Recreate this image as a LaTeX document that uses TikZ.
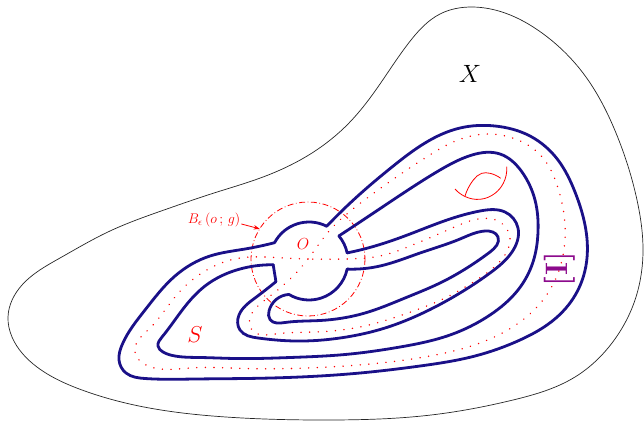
\RequirePackage{fix-cm}
\documentclass[tikz,border=0pt]{standalone}
\usepackage{tikz}
\usetikzlibrary{arrows.meta, calc, hobby}
\definecolor{bandblue}{RGB}{26,16,136}
\definecolor{fiberpurple}{RGB}{140,10,140}

\begin{document}
\begin{tikzpicture}[
    x=1pt, y=-1pt,
    spaceline/.style={draw=black!85, line width=0.7pt},
    bandline/.style={draw=bandblue, line width=2.8pt, line cap=round, line join=round},
    coreline/.style={draw=red, line width=1.6pt, line cap=round, dash pattern=on 0.01pt off 8.6pt},
    ballline/.style={draw=red, line width=0.8pt, dash pattern=on 6pt off 2.5pt on 0.8pt off 2.5pt},
    curveline/.style={draw=red, line width=0.8pt},
    redlabel/.style={text=red, inner sep=0pt},
]
  \useasboundingbox (0,0) rectangle (644,421);

  \coordinate (Oc) at (309,261);
  \coordinate (Bc) at (308,259);
  \coordinate (Lt) at ($(Oc)+(208:39)$);
  \coordinate (TRt) at ($(Oc)+(297:39)$);
  \coordinate (TRb) at ($(Oc)+(320:39)$);
  \coordinate (Rt) at ($(Oc)+(348:39)$);
  \coordinate (Rb) at ($(Oc)+(12:39)$);
  \coordinate (BLb) at ($(Oc)+(121:39)$);
  \coordinate (BLt) at ($(Oc)+(148:39)$);
  \coordinate (Lb) at ($(Oc)+(174:36)$);
  \coordinate (Bpt) at ($(Bc)+(212:57)$);

  \draw[spaceline] plot[closed hobby] coordinates {
    (8,317) (22,285) (60,258) (110,231) (164,210) (214,193) (263,177) (312,153)
    (349,123) (380,84) (411,40) (440,14) (472,7) (505,13) (542,33) (583,73)
    (616,133) (637,200) (643,250) (635,300) (612,343) (575,377) (513,400)
    (431,415) (328,420) (226,417) (144,407) (82,390) (37,367) (12,337)};

  \draw[ballline] (Bc) circle[radius=57];
  \draw[coreline] plot[closed hobby] coordinates {
    (308,259) (275,257.5) (240,258) (205,271) (175,297) (150,328) (135,352)
    (148,366) (190,368) (245,368.5) (307,368) (370,364) (430,356) (480,343)
    (520,322) (548,293) (562,260) (565,225) (558,188) (543,158) (518,140)
    (488,134) (458,140) (425,158) (392,180) (358,205) (330,230) (308,259)
    (288,281) (265,300) (250,318) (252,330) (275,334) (315,332) (360,327)
    (405,314) (445,298) (478,279) (502,259) (510,238) (500,222) (478,219)
    (450,229) (415,244) (380,256) (345,259)};

  \draw[bandline] plot[hobby] coordinates {
    (Lt) (245,249) (210,256) (175,276) (145,310) (122,345) (119,360) (126,373)
    (145,378.5) (195,379) (245,378.5) (300,377) (360,373) (420,366) (475,356)
    (520,340) (556,318) (578,290) (587,258) (585,225) (575,192) (558,160)
    (530,136) (495,126) (460,128) (425,143) (392,167) (360,194) (TRt)};
  \draw[bandline] plot[hobby] coordinates {
    (Lb) (240,269) (205,286) (180,313) (162,337) (158,346) (163,352) (175,356)
    (200,357.5) (235,358.5) (290,357.5) (345,354.5) (400,347) (450,335) (490,315)
    (518,290) (533,262) (538,232) (535,200) (522,172) (500,154) (472,155)
    (440,170) (405,192) (372,214) (TRb)};
  \draw[bandline] plot[hobby] coordinates {
    (Rt) (375,246) (410,234) (447,220) (480,211) (505,212) (518,228) (512,252)
    (490,273) (460,293) (425,312) (385,328) (340,338) (295,341) (258,338)
    (240,330) (239,315) (255,298) (BLt)};
  \draw[bandline] plot[hobby] coordinates {
    (Rb) (380,266) (420,253) (460,239) (485,231) (498,237) (490,252) (470,266)
    (440,283) (405,298) (365,313) (320,320.5) (285,322.5) (270,319.5) (269,311)
    (BLb)};

  \draw[bandline] (Lt) arc[start angle=208, end angle=297, radius=39];
  \draw[bandline] (TRb) arc[start angle=320, end angle=348, radius=39];
  \draw[bandline] (Rb) arc[start angle=12, end angle=121, radius=39];
  \draw[bandline] (BLt) -- (Lb);

  \draw[curveline] plot[hobby] coordinates {
    (455,189) (465,196.5) (480,199.3) (495,193.3) (503.3,183.3) (506.7,166.7)};
  \draw[curveline] plot[hobby] coordinates {
    (465,196) (473.3,180) (481.7,173.3) (490,173.3) (500.7,178.3)};

  \node[font={\fontsize{25}{30}\selectfont}, inner sep=0pt] (xlabel) at (470,74) {$X$};
  \node[redlabel, font={\fontsize{23}{28}\selectfont}] (slabel) at (195,335) {$S$};
  \node[redlabel, font={\fontsize{16}{19}\selectfont}] (olabel) at (303,244) {$O$};
  \node[redlabel, font={\fontsize{14}{17}\selectfont}] (blabel) at (214,220) {$B_{\epsilon}\,(o\,;\,g)$};
  \node[text=fiberpurple, rotate=90, inner sep=0pt, font={\fontsize{31}{33}\selectfont\bfseries}] (fiber) at (560,269) {[\kern1.5pt I\kern1.5pt]};

  \draw[red, line width=0.8pt, -{Stealth[length=6pt, width=4.5pt]}] ([shift={(1,4)}]blabel.east) -- (Bpt);
\end{tikzpicture}
\end{document}
